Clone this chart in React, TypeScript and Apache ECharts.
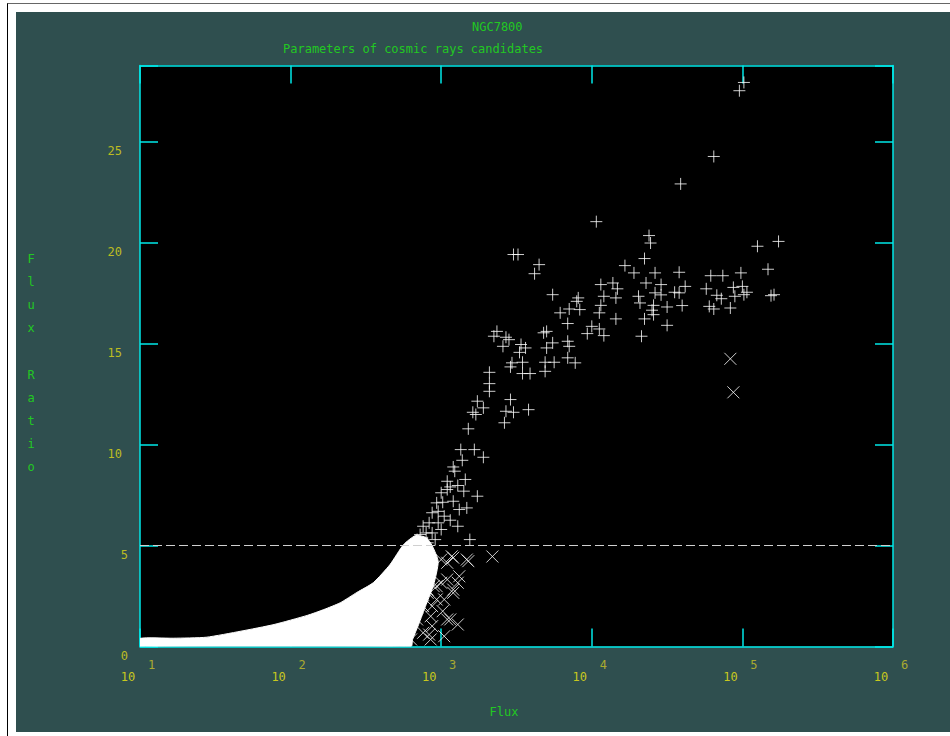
import React, { useEffect, useRef } from "react";
import * as echarts from "echarts";

// ---- data (flux given as log10(flux)) ----
const plusLogFlux = [
  5.01, 4.98, 4.81, 4.59, 4.38, 4.39, 4.35, 5.10, 5.24, 5.17, 4.42, 4.58, 4.79, 4.87, 4.99,
  4.36, 4.46, 4.62, 4.55, 4.58, 4.42, 4.76, 4.94, 5.00, 5.03, 4.83, 4.86, 4.95, 5.19, 5.21,
  5.01, 4.41, 4.50, 4.60, 4.78, 4.81, 4.92, 4.41, 4.35, 4.50, 4.33, 4.22, 4.28, 4.46, 4.31,
  4.32, 4.40, 4.06, 4.14, 4.17, 4.08, 4.16, 4.06, 4.05, 4.16, 3.74, 3.91, 3.90, 3.92, 3.85,
  3.79, 3.84, 4.00, 4.05, 3.97, 4.08, 3.84, 3.85, 3.70, 3.68, 3.74, 3.70, 3.84, 3.89, 3.75,
  3.69, 3.69, 3.48, 3.51, 3.65, 3.62, 3.37, 3.35, 3.43, 3.45, 3.41, 3.53, 3.56, 3.52, 3.54,
  3.47, 3.46, 3.54, 3.59, 3.32, 3.32, 3.32, 3.24, 3.28, 3.21, 3.23, 3.46, 3.43, 3.48, 3.58,
  3.42, 3.18, 3.13, 3.22, 3.28, 3.14, 3.08, 3.09, 3.16, 3.04, 3.11, 3.06, 3.04, 3.15, 3.00,
  3.08, 3.24, 2.97, 3.01, 3.12, 3.17, 2.98, 2.94, 3.02, 3.06, 2.98, 2.92, 3.11, 2.88, 3.00,
  2.90, 2.94, 2.86, 3.19, 2.96, 2.84, 2.91, 4.03,
];
const plusRatio = [
  27.96, 27.55, 24.29, 22.93, 20.37, 20.0, 19.23, 19.84, 20.08, 18.7, 18.52, 18.55, 18.38, 18.38, 18.52,
  18.02, 17.94, 17.85, 17.56, 17.53, 17.53, 17.73, 17.8, 17.85, 17.56, 17.41, 17.24, 17.36, 17.39, 17.44,
  17.44, 16.91, 16.83, 16.9, 16.86, 16.73, 16.78, 16.45, 16.24, 15.92, 15.38, 18.88, 18.52, 17.43, 17.36,
  17.03, 16.67, 17.94, 18.02, 17.73, 17.36, 17.28, 16.91, 16.54, 16.24, 17.44, 17.28, 17.11, 16.7, 16.73,
  16.54, 16.01, 15.87, 15.74, 15.51, 15.41, 15.13, 14.88, 15.62, 15.55, 15.05, 14.8, 14.31, 14.06, 14.09,
  14.09, 13.64, 19.43, 19.43, 18.93, 18.48, 15.62, 15.38, 15.33, 15.21, 14.88, 14.97, 14.8, 14.58, 14.09,
  14.06, 13.86, 13.53, 13.53, 13.59, 13.03, 12.65, 12.16, 11.83, 11.61, 11.5, 12.24, 11.66, 11.61, 11.74,
  11.09, 10.79, 9.76, 9.76, 9.38, 9.23, 8.9, 8.69, 8.28, 8.19, 7.98, 7.91, 7.78, 7.7, 7.62,
  7.2, 7.45, 7.12, 7.15, 6.79, 6.87, 6.7, 6.63, 6.46, 6.26, 6.13, 6.13, 5.96, 5.96, 5.8,
  5.63, 5.63, 5.55, 5.3, 5.3, 5.3, 5.14, 21.06,
];

const crossLogFlux = [
  4.92, 4.94, 3.34, 3.08, 3.18, 3.04, 3.0, 3.12, 3.01, 2.93, 3.11, 2.88, 2.8, 3.0, 3.08,
  2.94, 2.92, 3.04, 2.97, 2.88, 2.84, 2.94, 2.77, 3.02, 2.93, 3.06, 2.91, 2.97, 3.04, 3.08,
  3.07, 3.17, 3.02, 3.11, 2.91, 2.95,
];
const crossRatio = [
  14.26, 12.6, 4.46, 4.4, 4.23, 4.15, 4.31, 3.48, 1.75, 1.5, 1.09, 0.68, 0.35, 3.16, 2.66,
  2.0, 0.59, 1.34, 2.33, 2.0, 1.34, 1.01, 0.93, 0.51, 0.35, 1.34, 2.82, 2.99, 3.32, 2.82,
  4.47, 4.31, 2.33, 3.16, 2.66, 2.99,
];

// outline of the dense cloud of low-ratio candidates
const cloudLogFlux = [
  1.0, 1.22, 1.44, 1.67, 1.89, 2.11, 2.22, 2.33, 2.44, 2.55, 2.66, 2.75, 2.83, 2.9, 2.94,
  2.98, 2.95, 2.9, 2.85, 2.81, 2.8, 1.0,
];
const cloudRatio = [
  0.4, 0.41, 0.46, 0.76, 1.09, 1.54, 1.83, 2.17, 2.68, 3.17, 4.06, 5.05, 5.5, 5.4, 5.0,
  4.21, 3.07, 2.08, 1.09, 0.35, 0.0, 0.0,
];

const threshold = 5;
const yTicks = [0, 5, 10, 15, 20, 25];

const mono = '"DejaVu Sans Mono", "Liberation Mono", monospace';
const green = "#22c822";
const cyan = "#00e8e8";
const yellow = "#c8c81e";
const olive = "#aaaa30";

const toPts = (lf: number[], r: number[]) => lf.map((l, i) => [Math.pow(10, l), r[i]]);

export default function App() {
  const ref = useRef<HTMLDivElement>(null);
  useEffect(() => {
    if (!ref.current) return;
    const chart = echarts.init(ref.current, null, { renderer: "svg" });
    const axisLine = { show: true, onZero: false, lineStyle: { color: cyan, width: 1.5 } };
    const axisTick = { show: true, inside: true, length: 18, lineStyle: { color: cyan, width: 1.5 } };
    const xBase = {
      type: "log",
      logBase: 10,
      min: 10,
      max: 1e6,
      splitNumber: 5,
      axisLine,
      axisTick,
      minorTick: { show: false },
      splitLine: { show: false },
    };
    const yBase = {
      type: "value",
      min: 0,
      max: 28.8,
      interval: 5,
      axisLine,
      axisTick,
      splitLine: { show: false },
    };
    const titleText = { color: green, fontSize: 12, fontFamily: mono, fontWeight: "normal" };
    const option = {
      animation: false,
      backgroundColor: "transparent",
      title: [
        { text: "NGC7800", left: 472, top: 21, padding: 0, textStyle: titleText },
        { text: "Parameters of cosmic rays candidates", left: 283, top: 43, padding: 0, textStyle: titleText },
        {
          text: "F\nl\nu\nx\n\nR\na\nt\ni\no",
          left: 27.5,
          top: 247.5,
          padding: 0,
          textStyle: { ...titleText, lineHeight: 23.1 },
        },
      ],
      grid: {
        left: 140,
        right: 57,
        top: 65.5,
        bottom: 89.5,
        show: true,
        backgroundColor: "#000",
        borderWidth: 0,
      },
      xAxis: [
        {
          ...xBase,
          position: "bottom",
          name: "Flux",
          nameLocation: "middle",
          nameGap: 59,
          nameTextStyle: { color: green, fontSize: 12, fontFamily: mono, padding: [0, 25, 0, 0] },
          axisLabel: {
            show: true,
            interval: 0,
            margin: 12,
            showMinLabel: true,
            showMaxLabel: true,
            formatter: (v: number) => `{s|${Math.round(Math.log10(v))}}\n{b|10}`,
            rich: {
              s: { color: olive, fontSize: 12, fontFamily: mono, lineHeight: 12, padding: [0, 0, 0, 23] },
              b: { color: yellow, fontSize: 12, fontFamily: mono, lineHeight: 12, padding: [0, 24, 0, 0] },
            },
          },
        },
        { ...xBase, position: "top", axisLabel: { show: false } },
      ],
      yAxis: [
        {
          ...yBase,
          position: "left",
          axisLabel: {
            show: true,
            margin: 12,
            verticalAlign: "top",
            color: yellow,
            fontSize: 12,
            fontFamily: mono,
            formatter: (v: number) => {
              if (!yTicks.includes(v)) return "";
              return v >= 10 ? `{w|${v}}` : `{n|${v}}`;
            },
            rich: {
              w: { color: "#bcbc22", fontSize: 12, fontFamily: mono, padding: [3, 6, 0, 0] },
              n: { color: "#bcbc22", fontSize: 12, fontFamily: mono, padding: [3, 0, 0, 0] },
            },
          },
        },
        { ...yBase, position: "right", axisLabel: { show: false } },
      ],
      series: [
        {
          type: "custom",
          name: "cloud",
          coordinateSystem: "cartesian2d",
          xAxisIndex: 0,
          yAxisIndex: 0,
          silent: true,
          clip: true,
          data: toPts(cloudLogFlux, cloudRatio),
          renderItem: (params: any, api: any) => {
            if (params.dataIndex !== 0) return null;
            const points = cloudLogFlux.map((l, i) => api.coord([Math.pow(10, l), cloudRatio[i]]));
            return {
              type: "polygon",
              shape: { points, smooth: 0.2 },
              style: { fill: "#ffffff", stroke: "#ffffff", lineWidth: 1 },
            };
          },
        },
        {
          type: "scatter",
          name: "rejected",
          xAxisIndex: 0,
          yAxisIndex: 0,
          data: toPts(crossLogFlux, crossRatio),
          symbol: "path://M0,0L12,12M12,0L0,12",
          symbolSize: 12,
          itemStyle: { color: "rgba(0,0,0,0)", borderColor: "#ffffff", borderWidth: 1 },
          emphasis: { disabled: true },
          silent: true,
        },
        {
          type: "scatter",
          name: "candidates",
          xAxisIndex: 0,
          yAxisIndex: 0,
          data: toPts(plusLogFlux, plusRatio),
          symbol: "path://M0,6L12,6M6,0L6,12",
          symbolSize: 12,
          itemStyle: { color: "rgba(0,0,0,0)", borderColor: "#ffffff", borderWidth: 1 },
          emphasis: { disabled: true },
          silent: true,
          markLine: {
            silent: true,
            symbol: ["none", "none"],
            label: { show: false },
            lineStyle: { type: [9, 4], color: "#d0d0d0", width: 1 },
            data: [{ yAxis: threshold }],
          },
        },
      ],
    };
    chart.setOption(option as any);
    return () => chart.dispose();
  }, []);

  return (
    <div style={{ position: "fixed", left: 0, top: 0, width: 950, height: 736, background: "#fff", overflow: "hidden" }}>
      <div
        style={{
          position: "absolute",
          left: 7,
          top: 3,
          width: 943,
          height: 733,
          borderLeft: "1px solid #000",
          borderTop: "1px solid #666",
        }}
      />
      <div style={{ position: "absolute", left: 16, top: 12, width: 934, height: 720, background: "#2f4f4f" }} />
      <div ref={ref} style={{ position: "absolute", left: 0, top: 0, width: 950, height: 736 }} />
    </div>
  );
}
